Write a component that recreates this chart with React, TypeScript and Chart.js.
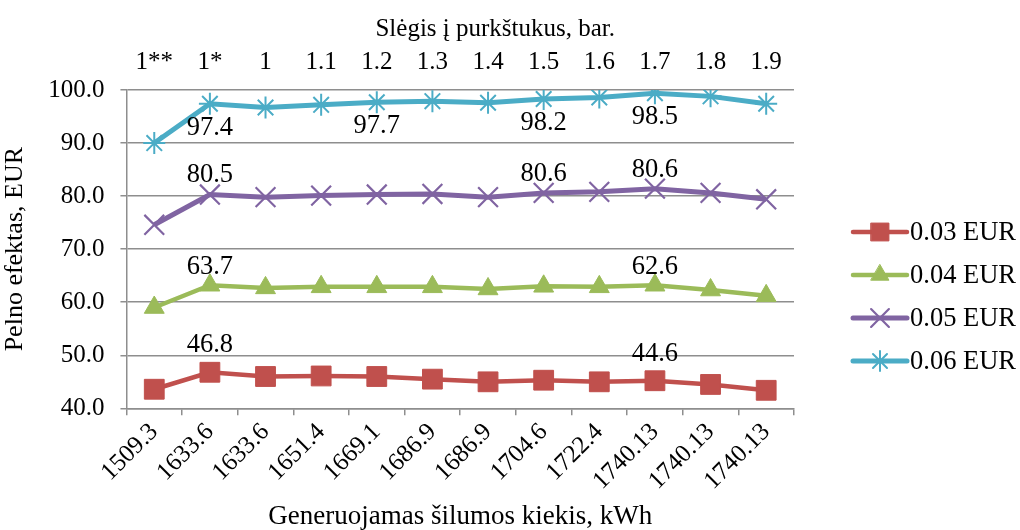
import React, { useEffect, useRef } from "react";
import { Chart, registerables } from "chart.js";
import { drawPoint } from "chart.js/helpers";

Chart.register(...registerables);

const FONT = "'Liberation Serif', 'Times New Roman', serif";

// ---- data ----
const heatAmounts = ["1509.3", "1633.6", "1633.6", "1651.4", "1669.1", "1686.9", "1686.9", "1704.6", "1722.4", "1740.13", "1740.13", "1740.13"];
const pressures = ["1**", "1*", "1", "1.1", "1.2", "1.3", "1.4", "1.5", "1.6", "1.7", "1.8", "1.9"];
const seriesNames = ["0.03 EUR", "0.04 EUR", "0.05 EUR", "0.06 EUR"];
const profit003 = [43.6, 46.8, 46.0, 46.1, 46.0, 45.5, 45.0, 45.3, 45.0, 45.2, 44.5, 43.4];
const profit004 = [59.0, 63.2, 62.7, 62.9, 62.9, 62.9, 62.5, 63.0, 62.9, 63.2, 62.3, 61.2];
const profit005 = [74.6, 80.3, 79.8, 80.1, 80.3, 80.4, 79.8, 80.6, 80.8, 81.4, 80.6, 79.4];
const profit006 = [90.0, 97.4, 96.7, 97.2, 97.7, 97.9, 97.6, 98.3, 98.6, 99.4, 98.8, 97.4];
const labels003 = [null, "46.8", null, null, null, null, null, null, null, "44.6", null, null];
const labels004 = [null, "63.7", null, null, null, null, null, null, null, "62.6", null, null];
const labels005 = [null, "80.5", null, null, null, null, null, "80.6", null, "80.6", null, null];
const labels006 = [null, "97.4", null, null, "97.7", null, null, "98.2", null, "98.5", null, null];
const yMin = 40;
const yMax = 100;
const yStep = 10;
const xTitle = "Generuojamas šilumos kiekis, kWh";
const topTitle = "Slėgis į purkštukus, bar.";
const yTitle = "Pelno efektas, EUR";

// ---- styles ----
const seriesStyles = [
  { color: "#C0504D", pointStyle: "rect", radius: 14, border: 1, lineWidth: 4.5, labelDy: -27 },
  { color: "#9BBB59", pointStyle: "triangle", radius: 11.5, border: 1, lineWidth: 4.5, labelDy: -18 },
  { color: "#8064A2", pointStyle: "crossRot", radius: 14, border: 2.2, lineWidth: 5, labelDy: -19 },
  { color: "#4BACC6", pointStyle: "star", radius: 11, border: 2, lineWidth: 5, labelDy: 24 },
];
const allValues = [profit003, profit004, profit005, profit006];
const allLabels = [labels003, labels004, labels005, labels006];
const GRID = "#8e8e8e";

const tickFont = { family: FONT, size: 25 };

const overlayPlugin = {
  id: "overlay",
  afterDatasetsDraw(chart: any) {
    const ctx = chart.ctx;
    ctx.save();
    ctx.font = `26.5px ${FONT}`;
    ctx.fillStyle = "#000";
    ctx.textAlign = "center";
    ctx.textBaseline = "middle";
    allLabels.forEach((lbls, i) => {
      const meta = chart.getDatasetMeta(i);
      lbls.forEach((t, j) => {
        if (t == null) return;
        const el = meta.data[j];
        ctx.fillText(t, el.x, el.y + seriesStyles[i].labelDy);
      });
    });
    ctx.restore();
  },
  afterDraw(chart: any) {
    const ctx = chart.ctx;
    const ca = chart.chartArea;
    // top (secondary) axis title
    ctx.save();
    ctx.font = `25px ${FONT}`;
    ctx.fillStyle = "#000";
    ctx.textAlign = "center";
    ctx.textBaseline = "middle";
    ctx.fillText(topTitle, (ca.left + ca.right) / 2 + 35, 29);
    ctx.restore();
    // legend
    const x0 = ca.right + 59;
    seriesNames.forEach((name, i) => {
      const st = seriesStyles[i];
      const y = ca.top + 142 + i * 43;
      ctx.save();
      ctx.strokeStyle = st.color;
      ctx.lineWidth = st.lineWidth;
      ctx.lineCap = "round";
      ctx.beginPath();
      ctx.moveTo(x0, y);
      ctx.lineTo(x0 + 54, y);
      ctx.stroke();
      ctx.fillStyle = st.color;
      ctx.lineWidth = st.border;
      drawPoint(ctx, { pointStyle: st.pointStyle as any, radius: st.radius * 0.9, rotation: 0, borderWidth: st.border } as any, x0 + 27, y);
      ctx.fillStyle = "#000";
      ctx.font = `26.5px ${FONT}`;
      ctx.textAlign = "left";
      ctx.textBaseline = "middle";
      ctx.fillText(name, x0 + 57, y + 1);
      ctx.restore();
    });
  },
};

export default function App() {
  const ref = useRef<HTMLCanvasElement>(null);
  useEffect(() => {
    document.body.style.margin = "0";
    const canvas = ref.current!;
    const chart = new Chart(canvas, {
      type: "line",
      data: {
        labels: heatAmounts,
        datasets: allValues.map((vals, i) => ({
          label: seriesNames[i],
          data: vals,
          borderColor: seriesStyles[i].color,
          backgroundColor: seriesStyles[i].color,
          borderWidth: seriesStyles[i].lineWidth,
          pointStyle: seriesStyles[i].pointStyle as any,
          pointRadius: seriesStyles[i].radius,
          pointBorderWidth: seriesStyles[i].border,
          pointBorderColor: seriesStyles[i].color,
          pointBackgroundColor: seriesStyles[i].color,
          tension: 0,
          xAxisID: "x",
          yAxisID: "y",
        })),
      },
      options: {
        responsive: false,
        animation: false,
        events: [],
        layout: { padding: { left: 0, right: 226, top: 34, bottom: 0 } },
        plugins: {
          legend: { display: false },
          tooltip: { enabled: false },
        },
        scales: {
          x: {
            type: "category",
            position: "bottom",
            offset: true,
            grid: { offset: true, drawOnChartArea: false, drawTicks: true, tickLength: 7, color: GRID, lineWidth: 1.5 },
            border: { display: true, color: GRID, width: 1.5 },
            ticks: { font: tickFont, color: "#000", minRotation: 45, maxRotation: 45, autoSkip: false, padding: 2 },
            title: { display: true, text: xTitle, font: { family: FONT, size: 27, lineHeight: 1.0 }, color: "#000", padding: { top: 5, bottom: 0 } },
          },
          xTop: {
            type: "category",
            position: "top",
            labels: pressures,
            offset: true,
            grid: { display: false, drawTicks: false },
            border: { display: false },
            ticks: { font: tickFont, color: "#000", maxRotation: 0, minRotation: 0, autoSkip: false, padding: 13 },
          },
          y: {
            type: "linear",
            position: "left",
            min: yMin,
            max: yMax,
            grid: { color: GRID, lineWidth: 1.5, tickLength: 6 },
            border: { display: true, color: GRID, width: 1.5 },
            ticks: { font: tickFont, color: "#000", stepSize: yStep, padding: 16, callback: (v: any) => Number(v).toFixed(1) },
            title: { display: true, text: yTitle, font: { family: FONT, size: 26 }, color: "#000", padding: { top: 0, bottom: 1 } },
          },
        },
      },
      plugins: [overlayPlugin],
    });
    return () => chart.destroy();
  }, []);
  return (
    <div style={{ width: 1020, height: 530 }}>
      <canvas ref={ref} width={1020} height={530} />
    </div>
  );
}
